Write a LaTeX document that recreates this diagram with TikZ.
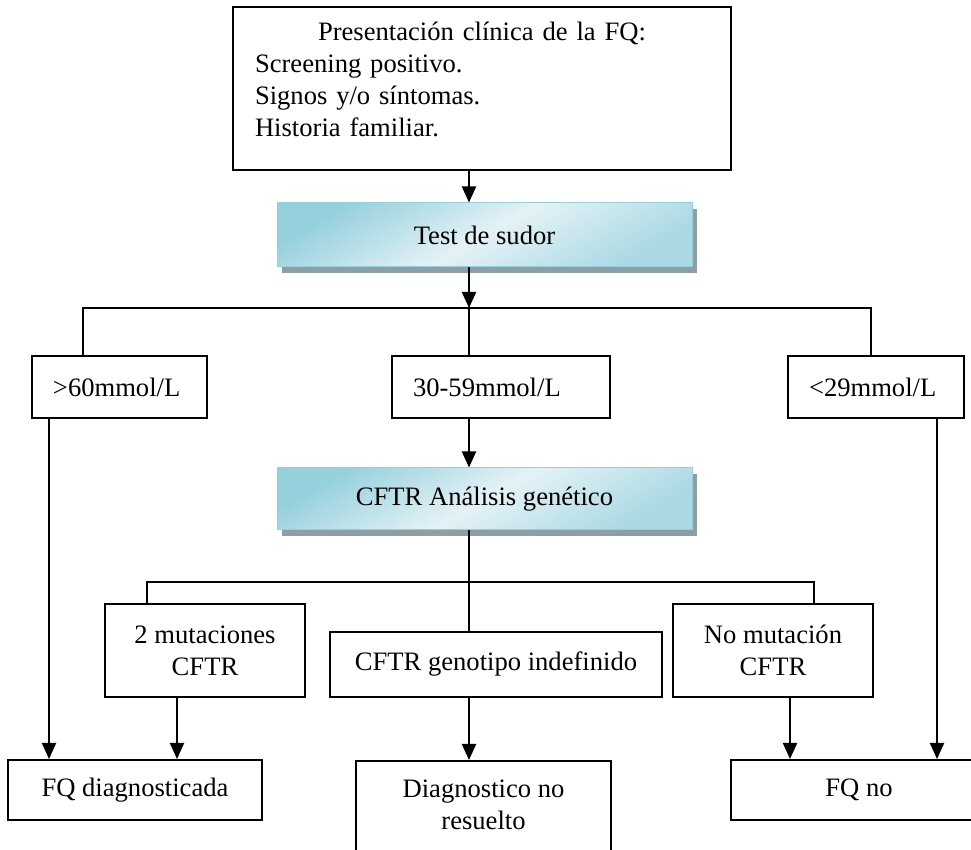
\documentclass[tikz,border=0pt]{standalone}
\usepackage{fontspec}
\setmainfont{Liberation Serif}
\usetikzlibrary{arrows.meta,shadows}
\definecolor{sudorAzulOscuro}{HTML}{96D0DD}
\definecolor{sudorAzulClaro}{HTML}{E4F2F6}
\definecolor{sudorSombra}{HTML}{8C9FA7}

\tikzset{
  caja/.style={draw, line width=1pt, align=center},
  cajaAzul/.style={draw=sudorAzulOscuro, line width=0.5pt, align=center,
    top color=sudorAzulOscuro, bottom color=sudorAzulOscuro!75!sudorAzulClaro, middle color=sudorAzulClaro,
    shading angle=30,
    general shadow={fill=sudorSombra, shadow xshift=2.5pt, shadow yshift=-3pt}},
  linea/.style={line width=1pt},
  flecha/.style={line width=1pt, -{Triangle[width=7pt,length=8pt]}}
}

\begin{document}
\begin{tikzpicture}[x=0.5pt, y=-0.5pt, font=\fontsize{13.3pt}{16pt}\selectfont]
            \useasboundingbox (0,0) rectangle (971,850);
            \clip (0,0) rectangle (971,850);
            % cajas
            \node[caja, align=left, text width=227pt, inner xsep=11pt, minimum height=81.5pt, text depth=57pt] (clinica) at (482,88.5)
                {\makebox[227pt][c]{Presentación clínica de la FQ:}\\ Screening positivo.\\ Signos y/o síntomas.\\ Historia familiar.};
            \node[cajaAzul, minimum width=207.5pt, minimum height=32pt] (sudor) at (484.5,235) {Test de sudor};
            \node[caja, align=left, text width=66.5pt, inner xsep=10.5pt, minimum height=31pt] (mayor) at (119.5,387) {>60mmol/L};
            \node[caja, align=left, text width=88pt, inner xsep=10.5pt, minimum height=31pt] (medio) at (501,387) {30-59mmol/L};
            \node[caja, align=left, text width=67pt, inner xsep=10.5pt, minimum height=31pt] (menor) at (876,387) {<29mmol/L};
            \node[cajaAzul, minimum width=207.5pt, minimum height=31pt] (cftr) at (484.5,499) {CFTR Análisis genético};
            \node[caja, minimum width=100pt, minimum height=46.5pt] (mut) at (205,650.5) {2 mutaciones\\CFTR};
            \node[caja, minimum width=166pt, minimum height=32.5pt] (geno) at (496,664.5) {CFTR genotipo indefinido};
            \node[caja, minimum width=100pt, minimum height=46.5pt] (nomut) at (773,650.5) {No mutación\\CFTR};
            \node[caja, minimum width=127pt, minimum height=30pt] (fqsi) at (135,790) {FQ diagnosticada};
            \node[caja, anchor=north, minimum width=127.5pt, inner ysep=9.5pt, text depth=14pt] (diag) at (483.5,760) {Diagnostico no\\resuelto};
            \node[caja, minimum width=128pt, minimum height=30pt] (fqno) at (859,790) {FQ no};
            % ejes de las flechas
            \coordinate (eje) at (469,0);
            \coordinate (ramaA) at (469,308);
            \coordinate (ramaB) at (469,582);
            \coordinate (izqA) at (83,308);
            \coordinate (derA) at (871,308);
            \coordinate (izqB) at (147,582);
            \coordinate (derB) at (814,582);
            \coordinate (xa) at (49,0);
            \coordinate (xb) at (177,0);
            \coordinate (xc) at (790,0);
            \coordinate (xd) at (937,0);
            % conectores
            \draw[flecha] (eje |- clinica.south) -- (eje |- sudor.north);
            \draw[flecha] (eje |- sudor.south) -- (ramaA);
            \draw[linea] (izqA |- mayor.north) -- (izqA) -- (derA) -- (derA |- menor.north);
            \draw[linea] (ramaA) -- (ramaA |- medio.north);
            \draw[flecha] (eje |- medio.south) -- (eje |- cftr.north);
            \draw[linea] (eje |- cftr.south) -- (ramaB);
            \draw[linea] (izqB |- mut.north) -- (izqB) -- (derB) -- (derB |- nomut.north);
            \draw[linea] (ramaB) -- (ramaB |- geno.north);
            \draw[flecha] (xa |- mayor.south) -- (xa |- fqsi.north);
            \draw[flecha] (xb |- mut.south) -- (xb |- fqsi.north);
            \draw[flecha] (eje |- geno.south) -- (eje |- diag.north);
            \draw[flecha] (xc |- nomut.south) -- (xc |- fqno.north);
            \draw[flecha] (xd |- menor.south) -- (xd |- fqno.north);
        \end{tikzpicture}
\end{document}
